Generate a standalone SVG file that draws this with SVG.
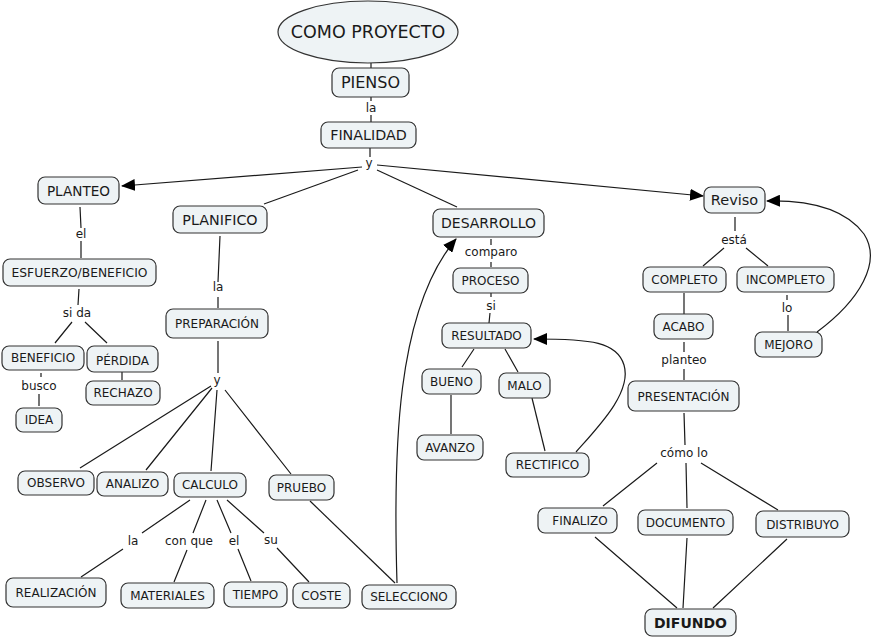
<svg xmlns="http://www.w3.org/2000/svg" width="876" height="638" viewBox="0 0 876 638">
<defs>
<style>
.n{fill:#eef3f5;stroke:#333;stroke-width:1.2}
.t{font-family:"DejaVu Sans",Verdana,sans-serif;fill:#1a1a1a;text-anchor:middle;font-size:12px}
.l{font-family:"DejaVu Sans",Verdana,sans-serif;fill:#1a1a1a;text-anchor:middle;font-size:12px}
.c{stroke:#1a1a1a;stroke-width:1.2;fill:none}
</style>
<marker id="ah" markerUnits="userSpaceOnUse" markerWidth="14" markerHeight="12" refX="13" refY="6" orient="auto">
<path d="M0,0 L14,6 L0,12 Z" fill="#000"/>
</marker>
</defs>
<rect width="876" height="638" fill="#fff"/>
<g id="connectors">
<path class="c" d="M371,63 L371,68"/>
<path class="c" d="M371,97 L371,101 M371,115 L371,122"/>
<path class="c" d="M370,148 L370,157"/>
<path class="c" d="M362,167 L122,186" marker-end="url(#ah)"/>
<path class="c" d="M358,170 L264,204"/>
<path class="c" d="M377,170 L457,207"/>
<path class="c" d="M377,165 L703,196" marker-end="url(#ah)"/>
<path class="c" d="M80,207 L81,228 M81,241 L81,258"/>
<path class="c" d="M79,289 L78,305 M72,322 L55,343 M85,322 L107,343"/>
<path class="c" d="M220,236 L218,282 M218,297 L218,308"/>
<path class="c" d="M41,373 L41,377 M39,394 L39,406"/>
<path class="c" d="M122,372 L122,380"/>
<path class="c" d="M218,341 L218,373"/>
<path class="c" d="M211,386 L80,468 M212,388 L146,470 M217,390 L211,471 M225,390 L291,474"/>
<path class="c" d="M190,500 L142,533 M123,549 L81,577"/>
<path class="c" d="M206,500 L193,533 M187,550 L174,582"/>
<path class="c" d="M217,500 L231,533 M238,549 L251,581"/>
<path class="c" d="M227,500 L264,533 M277,548 L309,582"/>
<path class="c" d="M310,501 L395,583"/>
<path class="c" d="M397,583 C393,450 396,310 456,239" marker-end="url(#ah)"/>
<path class="c" d="M491,239 L491,245 M491,262 L491,267"/>
<path class="c" d="M491,293 L491,297 M490,313 L489,323"/>
<path class="c" d="M474,349 L462,367 M505,349 L518,372"/>
<path class="c" d="M451,395 L451,434"/>
<path class="c" d="M532,398 L545,451"/>
<path class="c" d="M576,452 C600,425 632,392 624,365 C617,342 592,339 534,339" marker-end="url(#ah)"/>
<path class="c" d="M735,217 L735,231 M724,248 L703,266 M746,248 L768,266"/>
<path class="c" d="M684,293 L684,314"/>
<path class="c" d="M684,342 L684,352 M684,369 L684,380"/>
<path class="c" d="M684,413 L685,445"/>
<path class="c" d="M787,295 L787,300 M788,315 L788,331"/>
<path class="c" d="M817,332 C860,300 882,262 864,234 C846,210 812,200 767,201" marker-end="url(#ah)"/>
<path class="c" d="M657,463 L603,506 M686,463 L687,508 M701,463 L778,510"/>
<path class="c" d="M595,537 L677,608 M687,538 L683,608 M787,539 L713,608"/>
</g>
<g id="link-labels">
<text class="l" x="371" y="112">la</text>
<text class="l" x="369" y="167">y</text>
<text class="l" x="81" y="238">el</text>
<text class="l" x="77" y="317">si da</text>
<text class="l" x="218" y="291">la</text>
<text class="l" x="39" y="390">busco</text>
<text class="l" x="217" y="384">y</text>
<text class="l" x="133" y="545">la</text>
<text class="l" x="189" y="545">con que</text>
<text class="l" x="234" y="545">el</text>
<text class="l" x="271" y="544">su</text>
<text class="l" x="491" y="256">comparo</text>
<text class="l" x="491" y="310">si</text>
<text class="l" x="734" y="244">está</text>
<text class="l" x="787" y="312">lo</text>
<text class="l" x="684" y="364">planteo</text>
<text class="l" x="684" y="457">cómo lo</text>
</g>
<g id="n-como-proyecto"><ellipse class="n" cx="368" cy="32" rx="90" ry="31"/><text class="t" x="368" y="38" style="font-size:17.5px">COMO PROYECTO</text></g>
<g id="n-pienso"><rect class="n" x="332" y="68" width="77" height="29" rx="7"/><text class="t" x="370.5" y="88" style="font-size:16px">PIENSO</text></g>
<g id="n-finalidad"><rect class="n" x="321" y="122" width="95" height="26" rx="7"/><text class="t" x="368.5" y="140" style="font-size:14.3px">FINALIDAD</text></g>
<g id="n-planteo"><rect class="n" x="38" y="177" width="81" height="27" rx="7"/><text class="t" x="78.5" y="195.5" style="font-size:13.6px">PLANTEO</text></g>
<g id="n-planifico"><rect class="n" x="173" y="206" width="94" height="27" rx="7"/><text class="t" x="220" y="224.5" style="font-size:14.3px">PLANIFICO</text></g>
<g id="n-desarrollo"><rect class="n" x="433" y="209" width="111" height="28" rx="7"/><text class="t" x="488.5" y="228" style="font-size:14px">DESARROLLO</text></g>
<g id="n-reviso"><rect class="n" x="704" y="187" width="61" height="26" rx="7"/><text class="t" x="734.5" y="205" style="font-size:14.5px">Reviso</text></g>
<g id="n-esfuerzo"><rect class="n" x="3" y="259" width="153" height="27" rx="7"/><text class="t" x="79.5" y="277" style="font-size:12.3px">ESFUERZO/BENEFICIO</text></g>
<g id="n-preparacion"><rect class="n" x="166" y="309" width="102" height="29" rx="7"/><text class="t" x="217" y="328">PREPARACIÓN</text></g>
<g id="n-beneficio"><rect class="n" x="2" y="346" width="82" height="24" rx="7"/><text class="t" x="43" y="362">BENEFICIO</text></g>
<g id="n-perdida"><rect class="n" x="87" y="346" width="71" height="26" rx="7"/><text class="t" x="122.5" y="365">PÉRDIDA</text></g>
<g id="n-rechazo"><rect class="n" x="86" y="381" width="74" height="24" rx="7"/><text class="t" x="123" y="397">RECHAZO</text></g>
<g id="n-idea"><rect class="n" x="16" y="408" width="46" height="24" rx="7"/><text class="t" x="39" y="424">IDEA</text></g>
<g id="n-observo"><rect class="n" x="18" y="471" width="76" height="24" rx="7"/><text class="t" x="56" y="487">OBSERVO</text></g>
<g id="n-analizo"><rect class="n" x="97" y="472" width="71" height="24" rx="7"/><text class="t" x="132.5" y="488">ANALIZO</text></g>
<g id="n-calculo"><rect class="n" x="174" y="473" width="72" height="24" rx="7"/><text class="t" x="210" y="489">CALCULO</text></g>
<g id="n-pruebo"><rect class="n" x="269" y="475" width="65" height="25" rx="7"/><text class="t" x="301.5" y="492">PRUEBO</text></g>
<g id="n-realizacion"><rect class="n" x="6" y="578" width="100" height="29" rx="7"/><text class="t" x="56" y="597">REALIZACIÓN</text></g>
<g id="n-materiales"><rect class="n" x="121" y="583" width="93" height="25" rx="7"/><text class="t" x="167.5" y="600">MATERIALES</text></g>
<g id="n-tiempo"><rect class="n" x="224" y="582" width="63" height="25" rx="7"/><text class="t" x="255.5" y="599">TIEMPO</text></g>
<g id="n-coste"><rect class="n" x="293" y="583" width="57" height="25" rx="7"/><text class="t" x="321.5" y="600">COSTE</text></g>
<g id="n-selecciono"><rect class="n" x="362" y="585" width="94" height="24" rx="7"/><text class="t" x="409" y="601">SELECCIONO</text></g>
<g id="n-proceso"><rect class="n" x="453" y="268" width="75" height="25" rx="7"/><text class="t" x="490.5" y="285">PROCESO</text></g>
<g id="n-resultado"><rect class="n" x="442" y="323" width="89" height="25" rx="7"/><text class="t" x="486.5" y="340">RESULTADO</text></g>
<g id="n-bueno"><rect class="n" x="422" y="369" width="59" height="25" rx="7"/><text class="t" x="451.5" y="386">BUENO</text></g>
<g id="n-malo"><rect class="n" x="499" y="373" width="51" height="25" rx="7"/><text class="t" x="524.5" y="390">MALO</text></g>
<g id="n-avanzo"><rect class="n" x="417" y="435" width="66" height="25" rx="7"/><text class="t" x="450" y="452">AVANZO</text></g>
<g id="n-rectifico"><rect class="n" x="506" y="453" width="83" height="24" rx="7"/><text class="t" x="547.5" y="469">RECTIFICO</text></g>
<g id="n-completo"><rect class="n" x="643" y="267" width="83" height="25" rx="7"/><text class="t" x="684.5" y="284">COMPLETO</text></g>
<g id="n-incompleto"><rect class="n" x="737" y="267" width="97" height="25" rx="7"/><text class="t" x="785.5" y="284">INCOMPLETO</text></g>
<g id="n-acabo"><rect class="n" x="654" y="314" width="59" height="25" rx="7"/><text class="t" x="683.5" y="331">ACABO</text></g>
<g id="n-mejoro"><rect class="n" x="755" y="332" width="67" height="25" rx="7"/><text class="t" x="788.5" y="349">MEJORO</text></g>
<g id="n-presentacion"><rect class="n" x="628" y="381" width="111" height="30" rx="7"/><text class="t" x="683.5" y="401">PRESENTACIÓN</text></g>
<g id="n-finalizo"><rect class="n" x="538" y="508" width="79" height="25" rx="7"/><text class="t" x="580" y="525">FINALIZO</text></g>
<g id="n-documento"><rect class="n" x="638" y="510" width="95" height="25" rx="7"/><text class="t" x="685.5" y="527">DOCUMENTO</text></g>
<g id="n-distribuyo"><rect class="n" x="756" y="511" width="93" height="26" rx="7"/><text class="t" x="802.5" y="528.5">DISTRIBUYO</text></g>
<g id="n-difundo"><rect class="n" x="645" y="609" width="91" height="27" rx="7"/><text class="t" x="690.5" y="627.5" style="font-size:14px;font-weight:bold">DIFUNDO</text></g>
</svg>
